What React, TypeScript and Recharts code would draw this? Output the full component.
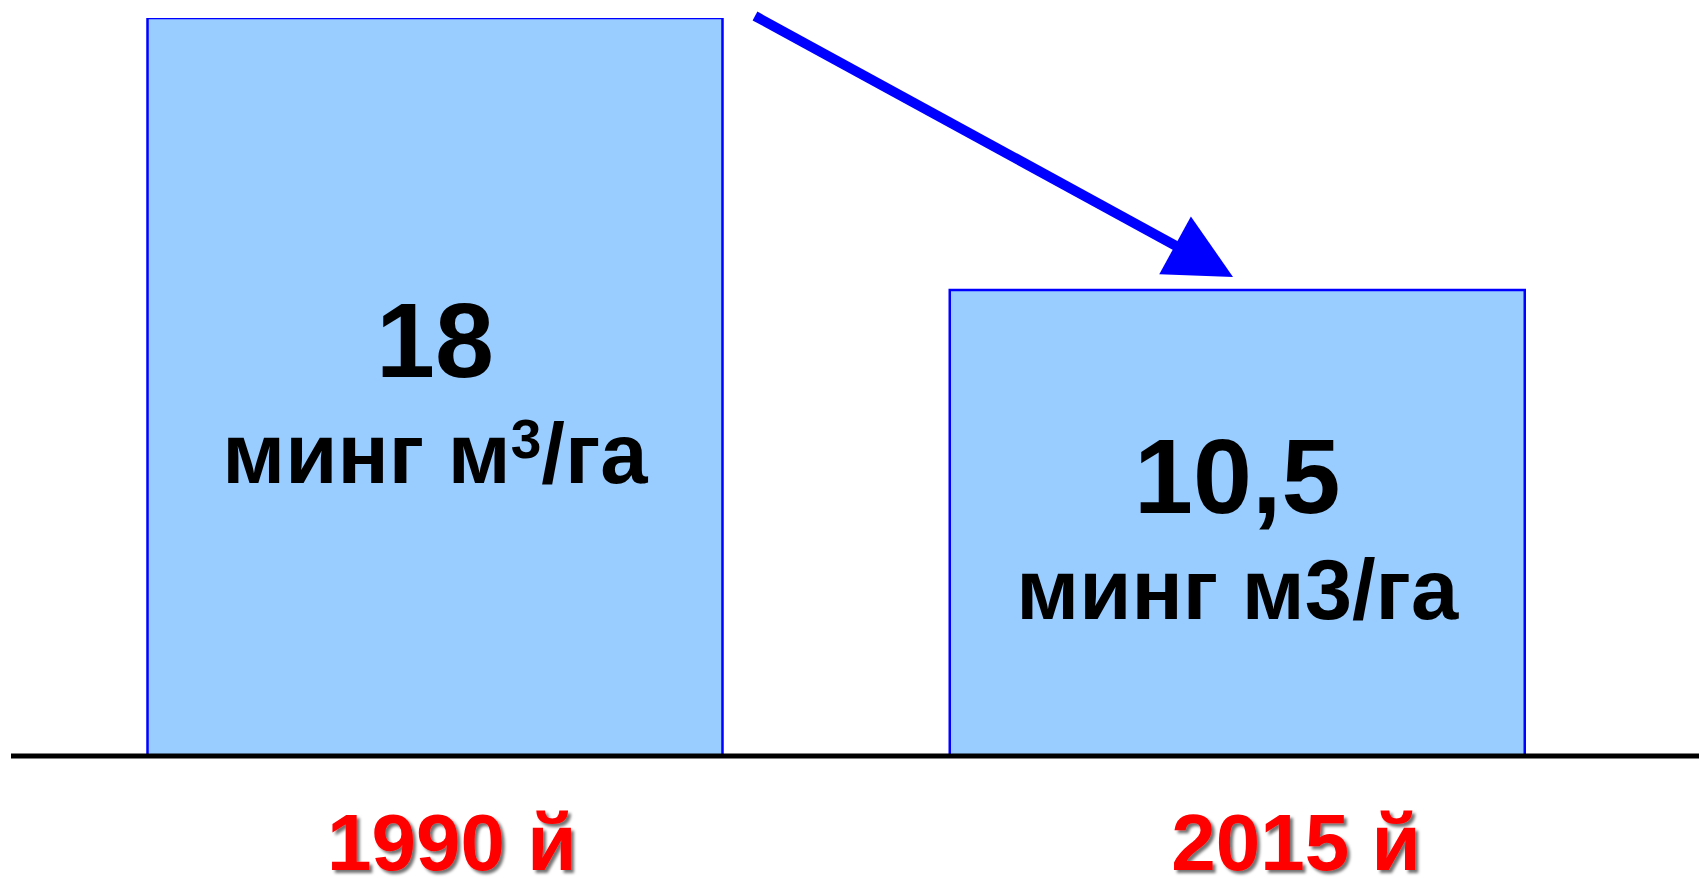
import { BarChart, Bar, XAxis, YAxis, LabelList, Customized } from "recharts";

// data
const years = ["1990 й", "2015 й"];
const volumes = [18, 10.5];
const volumeLabels = ["18", "10,5"];
const unitHead = ["минг м", "минг м"];
const unitPower = ["3", "3"];
const unitTail = ["/га", "/га"];
const powerRaised = [true, false];

const data = years.map((year, i) => ({ year, volume: volumes[i], idx: i }));

const W = 1699;
const H = 878;
const font = "'Liberation Sans', Arial, Helvetica, sans-serif";
// year captions sit a little right of the bar centres on the slide
const tickShift = [17, 59];

function YearTick(props: any) {
  const { x, y, payload, index } = props;
  return (
    <text
      x={x + (tickShift[index] ?? 0)}
      y={y + 114}
      textAnchor="middle"
      fontFamily={font}
      fontWeight="bold"
      fontSize={80}
      fill="#ff0000"
      filter="url(#yearShadow)"
    >
      {payload.value}
    </text>
  );
}

function BarText(props: any) {
  const { x, y, width, height, value } = props;
  const i = Number(value);
  const cx = x + width / 2;
  const cy = y + height / 2;
  const raised = powerRaised[i];
  return (
    <g fontFamily={font} fontWeight="bold" fill="#000">
      <text x={cx} y={cy - 10} textAnchor="middle" fontSize={106}>
        {volumeLabels[i]}
      </text>
      <text x={cx} y={cy + 96} textAnchor="middle" fontSize={85}>
        {unitHead[i]}
        {raised ? (
          <>
            <tspan fontSize={55} dy={-25}>{unitPower[i]}</tspan>
            <tspan dy={25}>{unitTail[i]}</tspan>
          </>
        ) : (
          unitPower[i] + unitTail[i]
        )}
      </text>
    </g>
  );
}

// decorative trend arrow between the bars
function TrendArrow() {
  const from = { x: 755, y: 16 };
  const tip = { x: 1233, y: 277 };
  const headLen = 66;
  const headHalf = 33;
  const dx = tip.x - from.x;
  const dy = tip.y - from.y;
  const len = Math.hypot(dx, dy);
  const ux = dx / len;
  const uy = dy / len;
  const bx = tip.x - ux * headLen;
  const by = tip.y - uy * headLen;
  const pts = [
    [tip.x, tip.y],
    [bx - uy * headHalf, by + ux * headHalf],
    [bx + uy * headHalf, by - ux * headHalf],
  ]
    .map((p) => p.join(","))
    .join(" ");
  return (
    <g>
      <defs>
        <filter id="yearShadow" x="-10%" y="-10%" width="130%" height="140%">
          <feDropShadow dx={3} dy={3} stdDeviation={1.5} floodColor="#000" floodOpacity={0.55} />
        </filter>
      </defs>
      <line x1={from.x} y1={from.y} x2={bx + ux * 2} y2={by + uy * 2} stroke="#0000ff" strokeWidth={10} />
      <polygon points={pts} fill="#0000ff" />
    </g>
  );
}

export default function App() {
  return (
    <div style={{ width: W, height: H, background: "#fff" }}>
      <style>{"body{margin:0;background:#fff}"}</style>
      <BarChart width={W} height={H} data={data} margin={{ top: 18, right: 0, left: 11, bottom: 0 }}>
        <XAxis
          dataKey="year"
          height={122}
          padding={{ left: 22.5, right: 61 }}
          axisLine={{ stroke: "#000", strokeWidth: 5 }}
          tickLine={false}
          tickSize={0}
          tickMargin={0}
          tick={<YearTick />}
          interval={0}
        />
        <YAxis hide scale="log" domain={[4.17, 18]} allowDataOverflow />
        <Bar dataKey="volume" barSize={575} fill="#99ccff" stroke="#0000ff" strokeWidth={2.5} isAnimationActive={false}>
          <LabelList dataKey="idx" content={<BarText />} />
        </Bar>
        <Customized component={<TrendArrow />} />
      </BarChart>
    </div>
  );
}
